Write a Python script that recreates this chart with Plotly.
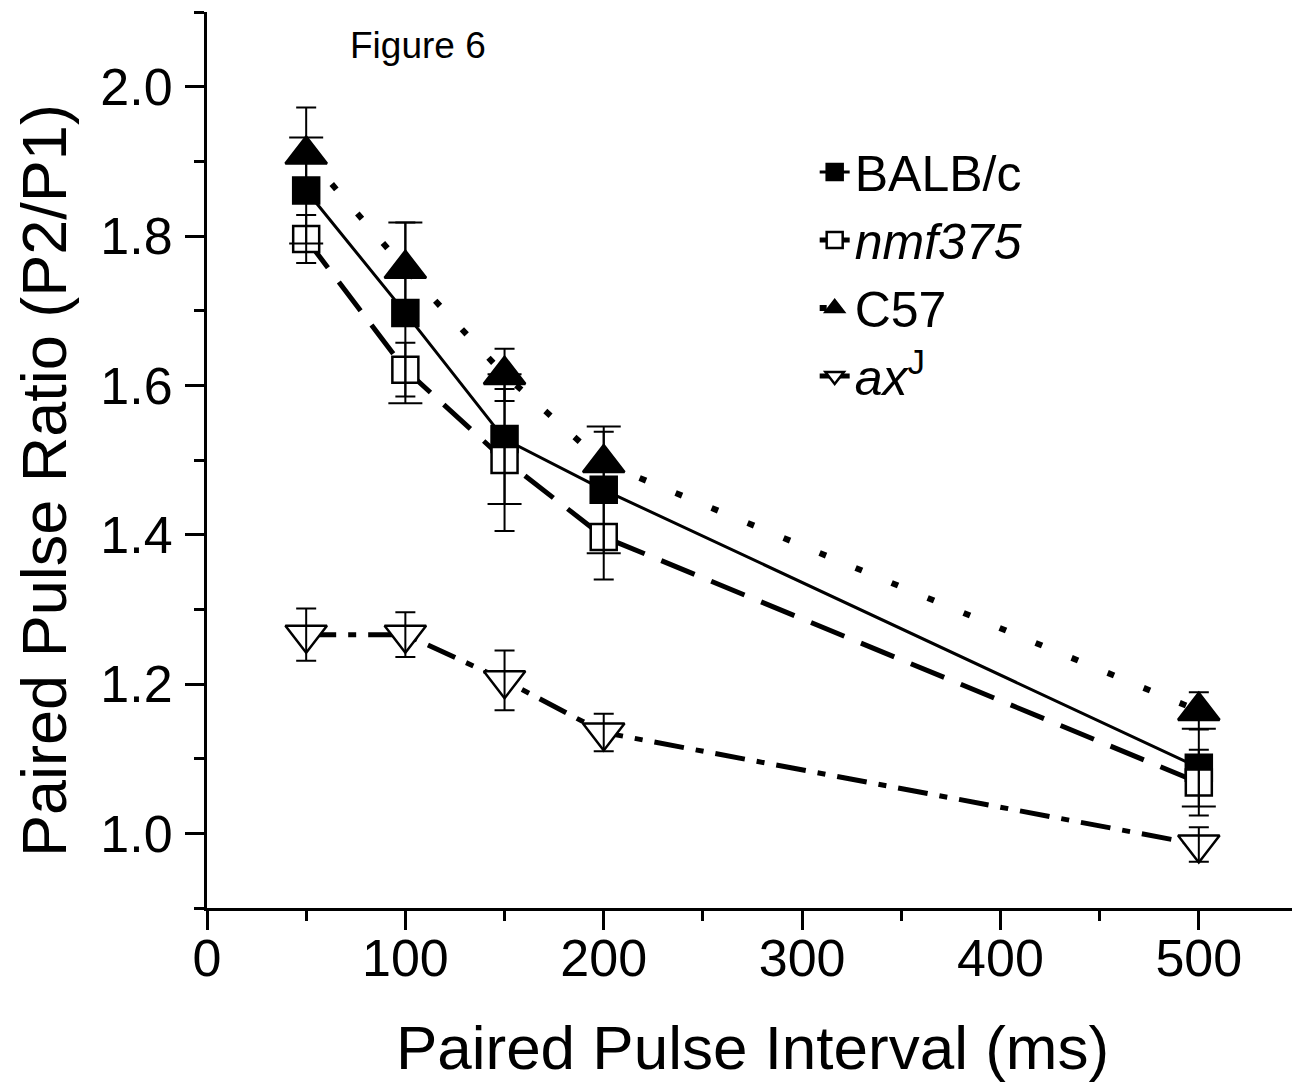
import plotly.graph_objects as go

# ---- data ----
interval_ms = [50, 100, 150, 200, 500]

balbc = [1.861, 1.697, 1.528, 1.460, 1.088]
balbc_err = [0.071, 0.121, 0.087, 0.085, 0.052]

nmf375 = [1.796, 1.621, 1.500, 1.397, 1.068]
nmf375_err = [0.032, 0.036, 0.095, 0.057, 0.044]

c57 = [1.909, 1.756, 1.614, 1.496, 1.164]
c57_err = [0.063, 0.062, 0.035, 0.042, 0.025]

axj = [1.266, 1.266, 1.205, 1.135, 0.985]
axj_err = [0.035, 0.030, 0.040, 0.025, 0.023]

series_names = ["BALB/c", "<i>nmf375</i>", "C57", "<i>ax</i><sup>J</sup>"]

FONT = "Liberation Sans, Arial, sans-serif"

fig = go.Figure()

styles = [
    (balbc, balbc_err, "square", "black", 26, dict(width=3, dash="solid"), 17),
    (nmf375, nmf375_err, "square", "white", 26, dict(width=5, dash="36px,18px"), 10),
    (c57, c57_err, "triangle-up", "black", 36, dict(width=6, dash="7px,32px"), 10),
    (axj, axj_err, "triangle-down", "white", 36, dict(width=5, dash="30px,12px,8px,12px"), 10),
]

for name, (vals, errs, sym, fill, size, line, capw) in zip(series_names, styles):
    fig.add_trace(go.Scatter(
        x=interval_ms, y=vals, name=name, mode="lines+markers",
        line=dict(color="black", **line),
        marker=dict(symbol=sym, size=size, color=fill,
                    line=dict(color="black", width=2.5)),
    ))

# error bars drawn on top of the markers
for (vals, errs, sym, fill, size, line, capw) in styles:
    fig.add_trace(go.Scatter(
        x=interval_ms, y=vals, mode="markers", showlegend=False,
        marker=dict(size=1, color="rgba(0,0,0,0)"),
        error_y=dict(type="data", array=errs, visible=True,
                     color="black", thickness=2, width=capw),
        hoverinfo="skip",
    ))

axis_common = dict(
    showline=True, linecolor="black", linewidth=3, mirror=False,
    ticks="outside", ticklen=19, tickwidth=3, tickcolor="black",
    showgrid=False, zeroline=False,
    tickfont=dict(family=FONT, size=52, color="black"),
)

fig.update_xaxes(
    range=[0, 550], dtick=100, tick0=0,
    minor=dict(ticks="outside", ticklen=10, tickwidth=3, tickcolor="black", dtick=50),
    title=dict(text="Paired Pulse Interval (ms)", font=dict(family=FONT, size=62, color="black"), standoff=40),
    ticklabelstandoff=-16,
    **axis_common,
)
fig.update_yaxes(
    range=[0.9, 2.1], dtick=0.2, tick0=1.0, tickformat=".1f",
    minor=dict(ticks="outside", ticklen=10, tickwidth=3, tickcolor="black", dtick=0.1),
    ticklabelstandoff=2,
    **axis_common,
)

# y-axis title (placed as rotated text to match the reference position)
fig.add_annotation(
    text="Paired Pulse Ratio (P2/P1)", xref="paper", yref="paper",
    x=-0.1494, y=0.4766, xanchor="center", yanchor="middle",
    textangle=-90, showarrow=False, borderpad=0,
    font=dict(family=FONT, size=63, color="black"),
)

fig.add_annotation(
    text="Figure 6", xref="paper", yref="paper", x=0.129, y=0.963,
    xanchor="left", yanchor="middle", showarrow=False,
    font=dict(family=FONT, size=37, color="black"),
)

fig.update_layout(
    width=1292, height=1081,
    margin=dict(l=199, r=2, t=4, b=181, autoexpand=False),
    plot_bgcolor="white", paper_bgcolor="white",
    font=dict(family=FONT, color="black"),
    legend=dict(
        x=0.557, y=0.865, xanchor="left", yanchor="top",
        bgcolor="rgba(0,0,0,0)", borderwidth=0,
        font=dict(family=FONT, size=50, color="black"),
        tracegroupgap=0, itemsizing="trace",
    ),
)

fig.write_html("out.html")
